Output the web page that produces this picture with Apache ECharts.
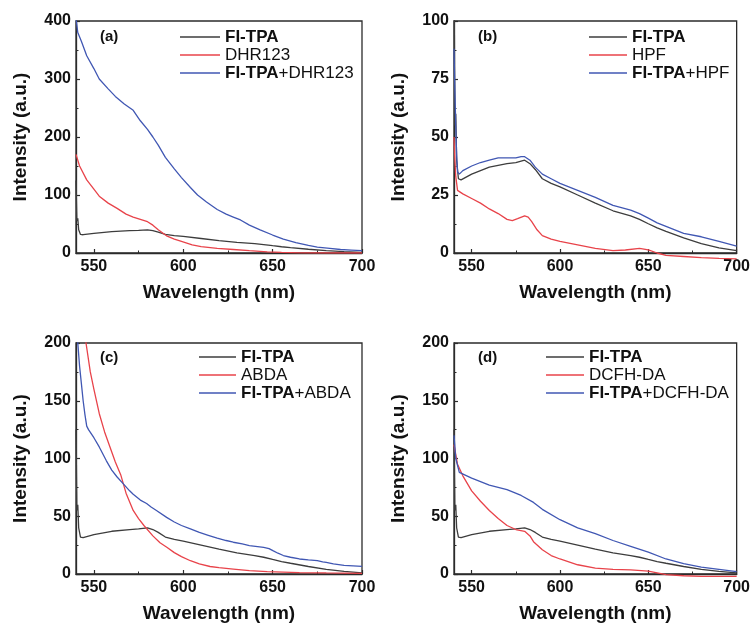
<!DOCTYPE html>
<html>
<head>
<meta charset="utf-8">
<script src="https://cdn.jsdelivr.net/npm/echarts@6/dist/echarts.min.js"></script>
<style>
  html, body { margin: 0; padding: 0; background: #fff; }
  #chart { width: 753px; height: 628px; }
</style>
</head>
<body>
<div id="chart"></div>
<script>
// spectra: wavelength (nm) / intensity (a.u.)
var flTpaX = [540, 540.5, 541, 541.5, 542.5, 544, 550, 560, 570, 575, 580, 583, 586, 590, 595, 600, 610, 620, 630, 640, 645, 650, 655, 660, 670, 680, 690, 700];
var flTpaY = [125, 55, 60, 40, 32, 31.5, 34, 37, 38.5, 39, 40, 38.5, 36, 32, 30, 28.5, 25, 21.5, 18.2, 16, 14.5, 12.6, 10.8, 9.3, 6.5, 4, 2.2, 1];

// (a)
var dhrX = [540, 542, 546, 550, 553, 558, 563, 568, 572, 576, 580, 583, 586, 591, 595, 599, 605, 610, 619, 628, 637, 647, 655, 665, 680, 700];
var dhrY = [170, 150, 126, 110, 98, 86, 77, 67, 62, 58, 54, 48, 40, 29, 24, 20, 14, 11, 8, 6, 4, 2, 1, 0.3, 0, 0];
var flDhrX = [540, 541, 543, 546, 550, 553, 558, 562, 567, 572, 576, 580, 583, 586, 590, 595, 599, 604, 608, 613, 619, 624, 628, 632, 637, 643, 650, 656, 663, 670, 675, 682, 688, 694, 700];
var flDhrY = [405, 380, 365, 340, 318, 300, 283, 270, 257, 246, 228, 213, 200, 186, 165, 145, 130, 113, 100, 88, 75, 67, 62, 57, 48, 40, 31, 24, 18, 13, 10, 8, 6, 5, 4];

// (b)
var hpfX = [540, 540.5, 541, 542, 545, 550, 555, 560, 565, 570, 573, 576, 580, 582, 584, 587, 590, 595, 600, 610, 620, 630, 637, 645, 650, 655, 660, 670, 680, 690, 700];
var hpfY = [50, 40, 33, 27, 25.5, 23.5, 21.5, 19, 17, 14.5, 14, 14.8, 16, 15.5, 13.5, 10, 7.5, 6, 5, 3.5, 2, 1, 1.3, 2, 1.3, 0, -1, -1.5, -2, -2.3, -2.5];
var flHpfX = [540, 540.5, 541, 541.5, 542, 543, 545, 550, 555, 560, 565, 570, 575, 578, 580, 583, 586, 590, 595, 600, 610, 620, 630, 640, 645, 650, 655, 660, 670, 680, 690, 700];
var flHpfY = [88, 70, 55, 42, 35, 34, 35.5, 37.5, 39, 40, 41, 41, 41, 41.5, 41.5, 40, 37, 34, 32, 30, 27, 24, 20.5, 18.5, 17, 15, 13, 11.5, 8.5, 7, 5, 3];

// (c)
var abdaX = [540, 542, 544, 545.6, 548, 550, 553, 556, 559, 562, 565, 568, 572, 575, 578, 583, 587, 591, 595, 599, 604, 609, 615, 620, 628, 637, 647, 665, 680, 700];
var abdaY = [330, 270, 225, 200, 175, 160, 139, 123, 110, 97, 86, 70, 55, 48, 42, 33, 27, 23, 18.5, 15, 11.5, 8.7, 6.5, 5.5, 4.3, 3, 2, 1.2, 0.9, 0.6];
var flAbdaX = [540, 541, 542, 543, 544, 545, 546, 547, 548, 550, 553, 557, 560, 563, 566.5, 570, 572, 576, 579.5, 582, 585, 590.7, 595, 599, 604, 609, 614, 619, 624, 628, 633, 637, 645, 648, 650.4, 653, 656, 660, 665, 670, 675, 678, 680, 684, 690, 700];
var flAbdaY = [260, 200, 180, 165, 150, 138, 128, 125, 126, 118, 110, 98, 90, 84, 78, 72, 69, 64, 61, 58, 55, 49, 45, 42, 39, 36, 33.5, 31, 29, 27.5, 26, 24.6, 23, 22, 20, 18, 16, 14.5, 13, 12.2, 11.6, 10.5, 10, 8.7, 7.5, 6.6];

// (d)
var dcfhX = [540, 542, 545, 550, 555, 560, 565, 570, 575, 580, 583, 585, 590, 595, 600, 610, 620, 630, 640, 650, 655, 660, 670, 680, 700];
var dcfhY = [112, 95, 85, 72, 63, 55, 48, 42, 38.5, 37, 33, 28, 21, 16, 13, 8, 5, 4, 3.5, 2.5, 1, -0.5, -1.5, -2, -2];
var flDcfhX = [540, 541, 543, 550, 560, 570, 578, 585, 590, 600, 610, 620, 630, 640, 650, 660, 670, 680, 690, 700];
var flDcfhY = [120, 100, 88, 83, 77, 73, 68, 62, 56, 47, 40, 35, 29, 24, 19, 13, 9, 6, 4, 2];

var xTicks = [550, 600, 650, 700];
var xMinorTicks = [575, 625, 675];
var panelLabels = ['(a)', '(b)', '(c)', '(d)'];
var probeNames = ['DHR123', 'HPF', 'ABDA', 'DCFH-DA'];
var yMax = [400, 100, 200, 200];
var yStep = [100, 25, 50, 50];

var BLACK = '#3d3d3d', RED = '#e8434a', BLUE = '#4057b3';
var FONT = "'Liberation Sans', Arial, sans-serif";

function pairs(xs, ys) {
    return xs.map(function (x, i) { return [x, ys[i]]; });
}

var probeData = [
    [pairs(dhrX, dhrY), pairs(flDhrX, flDhrY)],
    [pairs(hpfX, hpfY), pairs(flHpfX, flHpfY)],
    [pairs(abdaX, abdaY), pairs(flAbdaX, flAbdaY)],
    [pairs(dcfhX, dcfhY), pairs(flDcfhX, flDcfhY)]
];
var flTpa = pairs(flTpaX, flTpaY);

var grids = [
    {left: 76, top: 21, width: 286, height: 232},
    {left: 454, top: 21, width: 285, height: 232},
    {left: 76, top: 343, width: 286, height: 231},
    {left: 454, top: 343, width: 285, height: 231}
];
var legendPos = [
    {left: 180, top: 28, w: 40},
    {left: 589, top: 28, w: 38},
    {left: 199, top: 348, w: 37},
    {left: 546, top: 348, w: 38}
];
var labelPos = [
    {left: 100, top: 29},
    {left: 478, top: 29},
    {left: 100, top: 350},
    {left: 478, top: 350}
];

var axisColor = '#2b2b2b';
var option = {
    animation: false,
    grid: [], xAxis: [], yAxis: [], series: [], legend: [], title: []
};

grids.forEach(function (g, i) {
    option.grid.push({
        left: g.left, top: g.top, width: g.width, height: g.height,
        show: true, borderColor: axisColor, borderWidth: 1.3, backgroundColor: 'transparent'
    });
    option.xAxis.push({
        type: 'value', gridIndex: i, min: 540, max: 700, position: 'bottom',
        name: 'Wavelength (nm)', nameLocation: 'middle', nameGap: 30,
        nameTextStyle: {fontFamily: FONT, fontWeight: 'bold', fontSize: 19, color: '#111'},
        axisLine: {show: true, lineStyle: {color: axisColor, width: 1.3}},
        axisTick: {show: true, inside: true, length: 4, customValues: xTicks, lineStyle: {color: axisColor, width: 1.2}},
        axisLabel: {customValues: xTicks, margin: 6, fontFamily: FONT, fontWeight: 'bold', fontSize: 16, color: '#111'},
        splitLine: {show: false}
    });
    option.yAxis.push({
        type: 'value', gridIndex: i, min: 0, max: yMax[i], interval: yStep[i],
        name: 'Intensity (a.u.)', nameLocation: 'middle', nameGap: 46,
        nameTextStyle: {fontFamily: FONT, fontWeight: 'bold', fontSize: 19, color: '#111'},
        axisLine: {show: true, lineStyle: {color: axisColor, width: 1.3}},
        axisTick: {show: true, inside: true, length: 4, lineStyle: {color: axisColor, width: 1.2}},
        minorTick: {show: true, splitNumber: 2, length: 2.5, lineStyle: {color: axisColor, width: 1}},
        axisLabel: {margin: 5, fontFamily: FONT, fontWeight: 'bold', fontSize: 16, color: '#111'},
        splitLine: {show: false}
    });

    var probe = probeNames[i];
    var red = {
        name: probe, type: 'line', xAxisIndex: i, yAxisIndex: i,
        data: probeData[i][0], symbol: 'none', color: RED,
        lineStyle: {color: RED, width: 1.3}
    };
    if (i === 1 || i === 3) red.clip = false;
    option.series.push(
        {name: 'FI-TPA', type: 'line', xAxisIndex: i, yAxisIndex: i, data: flTpa,
         symbol: 'none', color: BLACK, lineStyle: {color: BLACK, width: 1.3}},
        red,
        {name: 'FI-TPA+' + probe, type: 'line', xAxisIndex: i, yAxisIndex: i,
         data: probeData[i][1], symbol: 'none', color: BLUE, lineStyle: {color: BLUE, width: 1.3}}
    );

    option.legend.push({
        orient: 'vertical', left: legendPos[i].left, top: legendPos[i].top,
        padding: 0, itemGap: 0, itemWidth: legendPos[i].w, itemHeight: 1.4,
        icon: 'rect',
        data: ['FI-TPA', probe, 'FI-TPA+' + probe],
        selectedMode: false,
        formatter: function (name) {
            if (name === 'FI-TPA') return '{b|FI-TPA}';
            if (name.indexOf('FI-TPA+') === 0) return '{b|FI-TPA}{n|' + name.slice(6) + '}';
            return '{n|' + name + '}';
        },
        textStyle: {
            fontFamily: FONT, fontSize: 17, color: '#111', lineHeight: 18,
            rich: {
                b: {fontFamily: FONT, fontSize: 17, fontWeight: 'bold', color: '#111', lineHeight: 18},
                n: {fontFamily: FONT, fontSize: 17, color: '#111', lineHeight: 18}
            }
        }
    });

    option.title.push({
        text: panelLabels[i], left: labelPos[i].left, top: labelPos[i].top, padding: 0,
        textStyle: {fontFamily: FONT, fontWeight: 'bold', fontSize: 15, color: '#111'}
    });
});

// minor x ticks at 575/625/675 on a second, bare axis per panel
grids.forEach(function (g, i) {
    option.xAxis.push({
        type: 'value', gridIndex: i, min: 540, max: 700, position: 'bottom',
        axisLine: {show: false},
        axisTick: {show: true, inside: true, length: 2.5, customValues: xMinorTicks, lineStyle: {color: axisColor, width: 1}},
        axisLabel: {show: false},
        splitLine: {show: false}
    });
});

var chart = echarts.init(document.getElementById('chart'));
chart.setOption(option);
</script>
</body>
</html>
